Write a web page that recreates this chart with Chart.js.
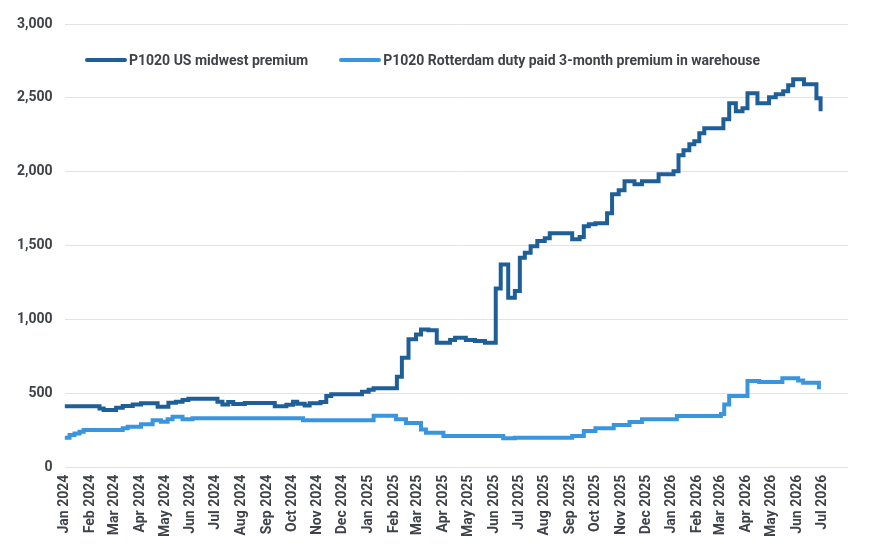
<!DOCTYPE html>
<html lang="en">
  <head>
    <meta charset="UTF-8" />
    <title>P1020 premiums</title>
    <script src="https://cdn.jsdelivr.net/npm/chart.js"></script>
    <style>
      body {
        margin: 0;
        background: #fff;
        font-family: Roboto, "Noto Sans", sans-serif;
      }
      .wrap {
        position: relative;
        width: 869px;
        height: 544px;
      }
      .legend {
        position: absolute;
        top: 51px;
        left: 85px;
        display: flex;
        gap: 31px;
        font-size: 14px;
        font-weight: bold;
        color: #3f4349;
      }
      .legend-item {
        display: flex;
        align-items: center;
        height: 18px;
      }
      .swatch {
        width: 42px;
        height: 4px;
        border-radius: 2px;
        margin-right: 2px;
      }
    </style>
  </head>
  <body>
    <div class="wrap">
      <canvas id="premiumChart"></canvas>
      <div class="legend" id="legend"></div>
    </div>

    <script>
      // x axis month labels
      const tickLabels = [
        "Jan 2024", "Feb 2024", "Mar 2024", "Apr 2024", "May 2024", "Jun 2024",
        "Jul 2024", "Aug 2024", "Sep 2024", "Oct 2024", "Nov 2024", "Dec 2024",
        "Jan 2025", "Feb 2025", "Mar 2025", "Apr 2025", "May 2025", "Jun 2025",
        "Jul 2025", "Aug 2025", "Sep 2025", "Oct 2025", "Nov 2025", "Dec 2025",
        "Jan 2026", "Feb 2026", "Mar 2026", "Apr 2026", "May 2026", "Jun 2026",
        "Jul 2026",
      ];

      // US midwest premium: dates where the price changed, and new value
      const usDates = [
        "2024-01-01", "2024-02-12", "2024-02-17", "2024-03-03", "2024-03-11",
        "2024-03-23", "2024-04-02", "2024-04-22", "2024-05-05", "2024-05-14",
        "2024-05-22", "2024-05-29", "2024-07-03", "2024-07-09", "2024-07-16",
        "2024-07-22", "2024-08-05", "2024-09-10", "2024-09-24", "2024-10-02",
        "2024-10-07", "2024-10-16", "2024-10-22", "2024-11-04", "2024-11-11",
        "2024-11-17", "2024-12-24", "2025-01-01", "2025-01-07", "2025-02-04",
        "2025-02-10", "2025-02-18", "2025-02-27", "2025-03-05", "2025-03-14",
        "2025-03-24", "2025-04-09", "2025-04-15", "2025-04-28", "2025-05-09",
        "2025-05-21", "2025-06-03", "2025-06-09", "2025-06-18", "2025-06-26",
        "2025-07-02", "2025-07-08", "2025-07-15", "2025-07-23", "2025-08-01",
        "2025-08-07", "2025-09-03", "2025-09-12", "2025-09-17", "2025-09-23",
        "2025-10-01", "2025-10-15", "2025-10-21", "2025-10-29", "2025-11-05",
        "2025-11-17", "2025-11-26", "2025-12-16", "2026-01-03", "2026-01-09",
        "2026-01-15", "2026-01-22", "2026-01-28", "2026-02-03", "2026-02-09",
        "2026-03-04", "2026-03-11", "2026-03-19", "2026-03-27", "2026-04-02",
        "2026-04-14", "2026-04-28", "2026-05-06", "2026-05-15", "2026-05-21",
        "2026-05-27", "2026-06-09", "2026-06-24", "2026-06-29",
      ];
      const usValues = [
        415, 400, 390, 405, 417, 428, 435, 412, 439, 446,
        457, 466, 446, 428, 444, 430, 437, 415, 425, 446,
        432, 421, 435, 444, 484, 496, 514, 527, 537, 615,
        743, 868, 901, 935, 930, 845, 863, 878, 863, 856,
        845, 1212, 1374, 1149, 1194, 1419, 1453, 1498, 1532, 1552,
        1586, 1545, 1559, 1633, 1646, 1653, 1720, 1849, 1876, 1937,
        1916, 1937, 1984, 2005, 2113, 2147, 2187, 2207, 2262, 2295,
        2356, 2464, 2410, 2430, 2532, 2464, 2505, 2525, 2545, 2586,
        2626, 2593, 2498, 2410,
      ];

      // Rotterdam duty paid 3-month premium in warehouse
      const rtDates = [
        "2024-01-01", "2024-01-07", "2024-01-13", "2024-01-19", "2024-01-24",
        "2024-03-11", "2024-03-17", "2024-04-02", "2024-04-16", "2024-04-26",
        "2024-05-04", "2024-05-10", "2024-05-22", "2024-06-03", "2024-10-14",
        "2025-01-07", "2025-02-03", "2025-02-15", "2025-03-05", "2025-03-11",
        "2025-04-01", "2025-06-12", "2025-06-26", "2025-09-03", "2025-09-17",
        "2025-10-01", "2025-10-23", "2025-11-11", "2025-11-26", "2026-01-07",
        "2026-03-01", "2026-03-05", "2026-03-11", "2026-04-02", "2026-04-16",
        "2026-05-14", "2026-06-02", "2026-06-08", "2026-06-27",
      ];
      const rtValues = [
        203, 221, 232, 243, 255, 266, 277, 293, 320, 311,
        327, 345, 327, 334, 320, 352, 327, 302, 259, 236,
        214, 199, 203, 214, 248, 266, 289, 309, 327, 349,
        363, 428, 484, 586, 579, 604, 590, 574, 530,
      ];

      const DAY = 86400000;
      const start = Date.UTC(2024, 0, 1);
      const months = ["Jan", "Feb", "Mar", "Apr", "May", "Jun",
                      "Jul", "Aug", "Sep", "Oct", "Nov", "Dec"];

      function toDay(s) {
        const [y, m, d] = s.split("-").map(Number);
        return (Date.UTC(y, m - 1, d) - start) / DAY;
      }
      function labelToDay(label) {
        const [mon, yr] = label.split(" ");
        return (Date.UTC(+yr, months.indexOf(mon), 1) - start) / DAY;
      }
      function points(dates, values) {
        return dates.map((d, i) => ({ x: toDay(d), y: values[i] }));
      }

      const tickDays = tickLabels.map(labelToDay);
      const textColor = "#3f4349";

      Chart.defaults.font.family = "Roboto, 'Noto Sans', sans-serif";
      Chart.defaults.font.size = 14;
      Chart.defaults.font.weight = "bold";
      Chart.defaults.color = textColor;

      const chart = new Chart(document.getElementById("premiumChart"), {
        type: "line",
        data: {
          datasets: [
            {
              label: "P1020 US midwest premium",
              data: points(usDates, usValues),
              borderColor: "#1f5f98",
              backgroundColor: "#1f5f98",
            },
            {
              label: "P1020 Rotterdam duty paid 3-month premium in warehouse",
              data: points(rtDates, rtValues),
              borderColor: "#3a95df",
              backgroundColor: "#3a95df",
            },
          ],
        },
        options: {
          responsive: true,
          maintainAspectRatio: false,
          animation: false,
          layout: { padding: { top: 24, right: 21, left: 5, bottom: 0 } },
          elements: {
            line: { borderWidth: 4, stepped: true, tension: 0 },
            point: { radius: 0 },
          },
          plugins: {
            legend: { display: false },
            tooltip: { enabled: false },
          },
          scales: {
            x: {
              type: "linear",
              min: 0,
              max: labelToDay("Aug 2026"),
              grid: { display: false, drawTicks: false },
              border: { display: false },
              afterBuildTicks: (axis) => {
                axis.ticks = tickDays.map((v) => ({ value: v }));
              },
              ticks: {
                autoSkip: false,
                minRotation: 90,
                maxRotation: 90,
                padding: 7,
                callback: (v, i) => tickLabels[i],
              },
            },
            y: {
              min: 0,
              max: 3000,
              border: { display: false },
              grid: { color: "#e3e3e3", drawTicks: false },
              ticks: {
                stepSize: 500,
                padding: 12,
                callback: (v) => v.toLocaleString("en-US"),
              },
            },
          },
        },
      });

      // legend drawn as html inside the plot area
      const legend = document.getElementById("legend");
      chart.data.datasets.forEach((ds) => {
        const item = document.createElement("div");
        item.className = "legend-item";
        const sw = document.createElement("span");
        sw.className = "swatch";
        sw.style.background = ds.borderColor;
        item.appendChild(sw);
        item.appendChild(document.createTextNode(ds.label));
        legend.appendChild(item);
      });
    </script>
  </body>
</html>
